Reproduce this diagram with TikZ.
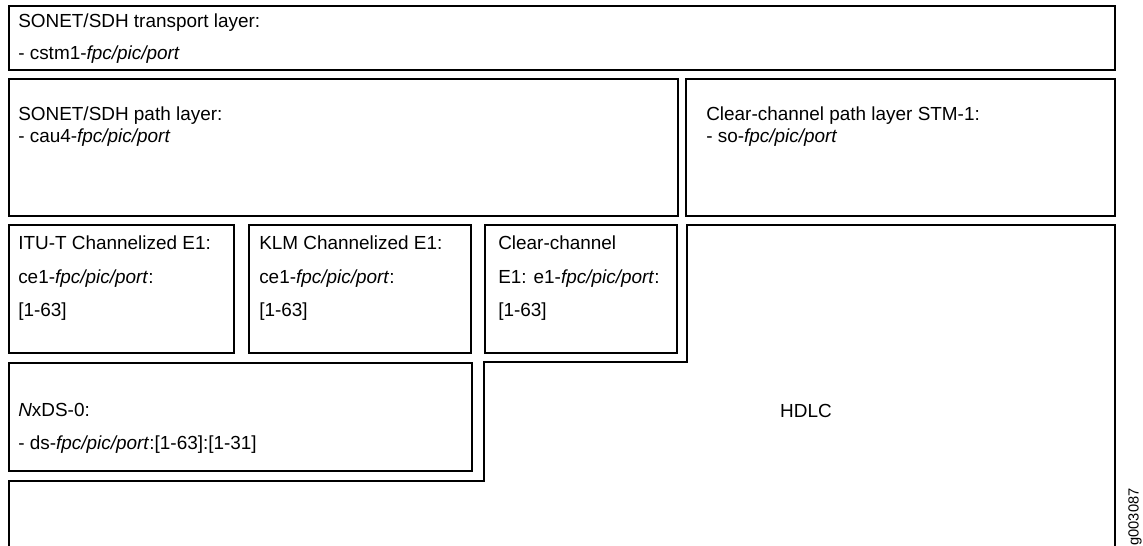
\documentclass[tikz,border=0pt]{standalone}
\usepackage{fontspec}
\setmainfont{Liberation Sans}
\usepackage{tikz}
\usetikzlibrary{positioning}

\newcommand{\fpp}{\textit{fpc/pic/port}}

\begin{document}
\begin{tikzpicture}
		[x=0.75pt, y=-0.75pt, layer/.style = {draw, line width=1.1pt},
		lbl/.style = {anchor=north west, inner sep=0pt, align=left, font=\fontsize{14.2}{23.5}\selectfont},
		tight/.style = {font=\fontsize{14.2}{16.5}\selectfont},
		wide/.style = {font=\fontsize{14.2}{25}\selectfont}]
	\useasboundingbox (0,0) rectangle (1143,546);
	\draw[layer] (9,6) rectangle (1115,70);
	\draw[layer] (9,79) rectangle (678,216);
	\draw[layer] (686,79) rectangle (1115,216);
	\draw[layer] (9,225) rectangle (234,353);
	\draw[layer] (249,225) rectangle (471,353);
	\draw[layer] (485,225) rectangle (677,353);
	\draw[layer] (9,363) rectangle (472,471);
	\draw[layer] (9,560) -- (9,481) -- (484,481) -- (484,362) -- (687,362) -- (687,225) -- (1115,225) -- (1115,560);
	\node[lbl] (transport) at (18,14) {SONET/SDH transport layer:\\- cstm1-\fpp};
	\node[lbl, tight] (path) at (18,107) {SONET/SDH path layer:\\- cau4-\fpp};
	\node[lbl, tight] (stm) at (706,107) {Clear-channel path layer STM-1:\\- so-\fpp};
	\node[lbl, wide] (itu) at (18,236) {ITU-T Channelized E1:\\ce1-\fpp:\\{}[1-63]};
	\node[lbl, wide] (klm) at (259,236) {KLM Channelized E1:\\ce1-\fpp:\\{}[1-63]};
	\node[lbl, wide] (clear) at (498,236) {Clear-channel\\E1: e1-\fpp:\\{}[1-63]};
	\node[lbl, wide] (nxds) at (18,403) {\textit{N}xDS-0:\\- ds-\fpp:[1-63]:[1-31]};
	\node[font=\fontsize{14.2}{17}\selectfont] (hdlc) at (806,411) {HDLC};
	\node[rotate=90, inner sep=0pt, font=\fontsize{11}{13}\selectfont] (fig) at (1135,517) {g003087};
\end{tikzpicture}
\end{document}
